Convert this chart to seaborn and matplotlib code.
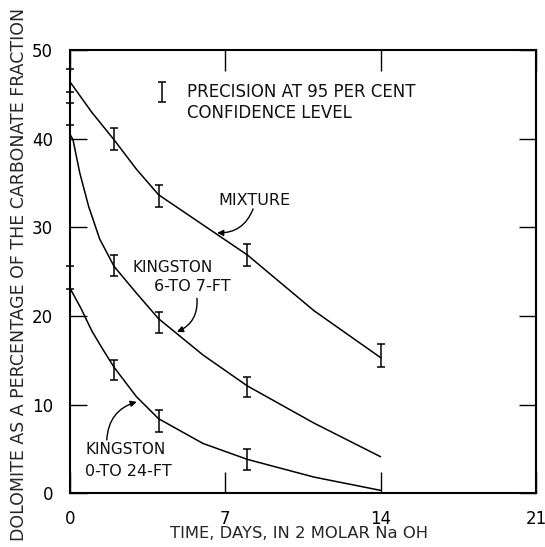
import numpy as np
import pandas as pd
import matplotlib
matplotlib.use("Agg")
import matplotlib.pyplot as plt
import seaborn as sns

# ---- data ----
bar_days_mix = [0, 2, 4, 8, 14]
mix_bar = [46.6, 39.95, 33.6, 26.9, 15.5]
mix_err = [1.3, 1.25, 1.25, 1.25, 1.3]

bar_days_k = [0, 2, 4, 8]
k67_bar = [42.8, 25.7, 19.25, 12.0]
k67_err = [1.25, 1.2, 1.2, 1.1]
k024_bar = [24.35, 13.9, 8.15, 3.8]
k024_err = [1.25, 1.1, 1.25, 1.2]

mix_curve_days = [0, 1, 2, 3, 4, 6, 8, 11, 14]
mix_curve = [46.5, 43.0, 39.9, 36.6, 33.7, 30.3, 26.9, 20.6, 15.3]

k67_curve_days = [0, 0.15, 0.45, 0.85, 1.35, 2, 3, 4, 6, 8, 11, 14]
k67_curve = [40.6, 39.9, 36.2, 32.4, 28.7, 25.6, 22.6, 19.7, 15.6, 12.1, 7.9, 4.1]

k024_curve_days = [0, 0.5, 1, 1.5, 2, 3, 4, 6, 8, 11, 14]
k024_curve = [23.2, 20.9, 18.3, 16.2, 14.2, 10.9, 8.4, 5.6, 3.8, 1.8, 0.3]

x_ticks = [0, 7, 14, 21]
y_ticks = [0, 10, 20, 30, 40, 50]

sns.set_theme(style="white")
plt.rcParams["font.family"] = ["DejaVu Sans"]

fig = plt.figure(figsize=(5.45, 5.47), dpi=100)
ax = fig.add_axes([0.1279, 0.0987, 0.8556, 0.809])

for d, v in [(mix_curve_days, mix_curve), (k67_curve_days, k67_curve), (k024_curve_days, k024_curve)]:
    df = pd.DataFrame({"day": d, "val": v})
    sns.lineplot(data=df, x="day", y="val", ax=ax, color="black", lw=1.1,
                 estimator=None, sort=True, legend=False)

for d, v, e in [(bar_days_mix, mix_bar, mix_err), (bar_days_k, k67_bar, k67_err), (bar_days_k, k024_bar, k024_err)]:
    ax.errorbar(d, v, yerr=e, fmt="none", ecolor="black", elinewidth=1.1, capsize=3, capthick=1.1, clip_on=False)

# precision symbol
ax.errorbar([4.14], [45.3], yerr=[1.15], fmt="none", ecolor="black", elinewidth=1.1, capsize=3, capthick=1.1)
ax.text(5.27, 45.35, "PRECISION AT 95 PER CENT", fontsize=12, va="center", ha="left", color="#111111")
ax.text(5.27, 42.9, "CONFIDENCE LEVEL", fontsize=12, va="center", ha="left", color="#111111")

ax.text(8.32, 33.1, "MIXTURE", fontsize=11.5, ha="center", va="center", color="#111111")
ax.annotate("", xy=(6.64, 29.4), xytext=(8.26, 32.1),
            arrowprops=dict(arrowstyle="-|>", color="black", lw=1.0, mutation_scale=9,
                            connectionstyle="arc3,rad=-0.35", shrinkA=0, shrinkB=0))

ax.text(4.65, 25.5, "KINGSTON", fontsize=11, ha="center", va="center", color="#111111")
ax.text(5.53, 23.3, "6-TO 7-FT", fontsize=11.5, ha="center", va="center", color="#111111")
ax.annotate("", xy=(4.83, 18.2), xytext=(5.73, 22.0),
            arrowprops=dict(arrowstyle="-|>", color="black", lw=1.0, mutation_scale=9,
                            connectionstyle="arc3,rad=-0.35", shrinkA=0, shrinkB=0))

ax.text(0.69, 4.86, "KINGSTON", fontsize=11, ha="left", va="center", color="#111111")
ax.text(0.69, 2.4, "0-TO 24-FT", fontsize=11.5, ha="left", va="center", color="#111111")
ax.annotate("", xy=(3.02, 10.3), xytext=(1.67, 6.0),
            arrowprops=dict(arrowstyle="-|>", color="black", lw=1.0, mutation_scale=9,
                            connectionstyle="arc3,rad=-0.35", shrinkA=0, shrinkB=0))

ax.set_xlim(0, 21)
ax.set_ylim(0, 50)
ax.set_xticks(x_ticks)
ax.set_xticklabels([str(t) for t in x_ticks])
ax.set_yticks(y_ticks)
ax.set_yticklabels([str(t) for t in y_ticks])
ax.tick_params(axis="x", direction="in", length=15, width=1.0, top=True, bottom=True,
               labelsize=12, pad=12, colors="black")
ax.tick_params(axis="y", direction="in", length=12, width=1.0, left=True, right=True,
               labelsize=12, pad=12, colors="black")
for s in ax.spines.values():
    s.set_color("black")
    s.set_linewidth(1.5)
ax.set_xlabel("")
ax.set_ylabel("")

fig.text(0.5486, 0.024, "TIME, DAYS, IN 2 MOLAR Na OH", fontsize=11.8, ha="center", va="center")
fig.text(0.0349, 0.499, "DOLOMITE AS A PERCENTAGE OF THE CARBONATE FRACTION", fontsize=12.5,
         ha="center", va="center", rotation=90)

fig.savefig("out.png", dpi=100, facecolor="white")
